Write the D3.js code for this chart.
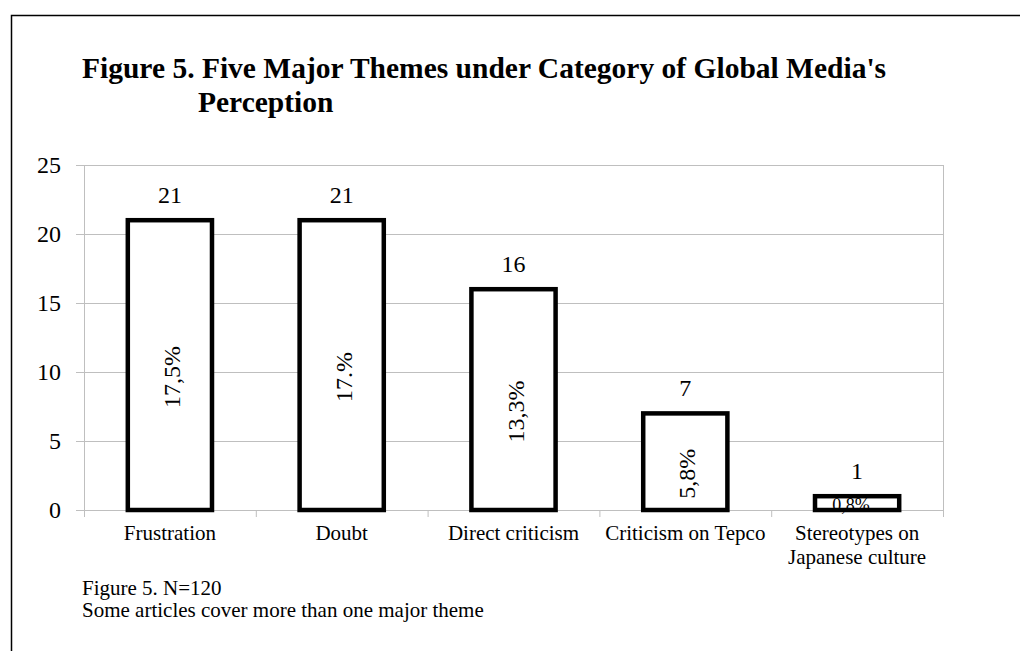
<!DOCTYPE html>
<html>
<head>
<meta charset="utf-8">
<script src="https://cdn.jsdelivr.net/npm/d3@7"></script>
<style>
  body { margin: 0; background: #fff; }
  svg { display: block; font-family: "Liberation Serif", "Times New Roman", serif; }
</style>
</head>
<body>
<svg></svg>
<script>
const categories = ['Frustration', 'Doubt', 'Direct criticism', 'Criticism on Tepco', 'Stereotypes on\nJapanese culture'];
const counts = [21, 21, 16, 7, 1];
const shareLabels = ['17,5%', '17.%', '13,3%', '5,8%', '0,8%'];
const yTicks = [0, 5, 10, 15, 20, 25];
const titleLines = ["Figure 5. Five Major Themes under Category of Global Media's", 'Perception'];
const noteLines = ['Figure 5. N=120', 'Some articles cover more than one major theme'];

const svgWidth = 1020;
const svgHeight = 651;
const margin = { top: 165, right: 77, bottom: 141, left: 84 };
const width = svgWidth - margin.left - margin.right;
const height = svgHeight - margin.top - margin.bottom;
const gridColor = '#bfbfbf';

const root = d3.select('svg')
    .attr('width', svgWidth)
    .attr('height', svgHeight);

// outer frame (only top and left edges are visible)
root.append('path')
    .attr('d', `M11.5,${svgHeight} V15.5 H${svgWidth}`)
    .attr('fill', 'none')
    .attr('stroke', '#000')
    .attr('stroke-width', 1.5);

// title with hanging indent
root.append('text')
    .attr('x', 82).attr('y', 78)
    .attr('font-size', '29.5px').attr('font-weight', 'bold')
    .text(titleLines[0]);
root.append('text')
    .attr('x', 198).attr('y', 112)
    .attr('font-size', '29.5px').attr('font-weight', 'bold')
    .text(titleLines[1]);

const svg = root.append('g')
    .attr('transform', `translate(${margin.left}, ${margin.top})`);

const yScale = d3.scaleLinear()
    .domain([0, 25])
    .range([height, 0]);

const xScale = d3.scaleBand()
    .domain(categories)
    .range([0, width])
    .padding(0);

// gridlines
svg.selectAll('.grid')
    .data(yTicks)
    .enter().append('line')
    .attr('class', 'grid')
    .attr('x1', 0).attr('x2', width)
    .attr('y1', d => yScale(d) + 0.5).attr('y2', d => yScale(d) + 0.5)
    .attr('stroke', gridColor);

// right edge of plot area
svg.append('line')
    .attr('x1', width + 0.5).attr('x2', width + 0.5)
    .attr('y1', 0).attr('y2', height)
    .attr('stroke', gridColor);

// y axis
const yAxis = svg.append('g')
    .call(d3.axisLeft(yScale).tickValues(yTicks).tickSize(8).tickSizeOuter(0).tickPadding(15));
yAxis.attr('font-family', null).attr('font-size', null);
yAxis.selectAll('line, path').attr('stroke', gridColor);
yAxis.selectAll('text')
    .attr('font-size', '24px')
    .attr('fill', '#000');

// x axis line + boundary ticks
svg.append('line')
    .attr('x1', 0).attr('x2', width)
    .attr('y1', height + 0.5).attr('y2', height + 0.5)
    .attr('stroke', gridColor);
svg.selectAll('.xtick')
    .data(d3.range(categories.length + 1))
    .enter().append('line')
    .attr('class', 'xtick')
    .attr('x1', i => i * xScale.step() + 0.5).attr('x2', i => i * xScale.step() + 0.5)
    .attr('y1', height).attr('y2', height + 7)
    .attr('stroke', gridColor);

const bw = xScale.bandwidth();
const barX = c => xScale(c) + bw * 0.255;
const barW = bw * 0.49;
const cx = c => xScale(c) + bw / 2;

const rows = categories.map((c, i) => ({ cat: c, value: counts[i], share: shareLabels[i] }));

// bar fills
svg.selectAll('.bar')
    .data(rows)
    .enter().append('rect')
    .attr('class', 'bar')
    .attr('x', d => barX(d.cat))
    .attr('y', d => yScale(d.value))
    .attr('width', barW)
    .attr('height', d => height - yScale(d.value))
    .attr('fill', '#fff');

// share labels inside bars
svg.selectAll('.share')
    .data(rows)
    .enter().append('text')
    .attr('class', 'share')
    .attr('text-anchor', 'middle')
    .attr('fill', '#000')
    .each(function (d) {
        const t = d3.select(this);
        const barH = height - yScale(d.value);
        if (barH > 80) {
            const cy = yScale(d.value / 2) + 12;
            t.attr('font-size', '24px')
                .attr('transform', `translate(${cx(d.cat) + 10}, ${cy}) rotate(-90)`);
        } else {
            t.attr('font-size', '18px')
                .attr('x', cx(d.cat) - 6)
                .attr('y', height + 1);
        }
    })
    .text(d => d.share);

// bar outlines on top
svg.selectAll('.outline')
    .data(rows)
    .enter().append('rect')
    .attr('class', 'outline')
    .attr('x', d => barX(d.cat))
    .attr('y', d => yScale(d.value))
    .attr('width', barW)
    .attr('height', d => height - yScale(d.value))
    .attr('fill', 'none')
    .attr('stroke', '#000')
    .attr('stroke-width', 4.5);

// value labels
svg.selectAll('.value')
    .data(rows)
    .enter().append('text')
    .attr('class', 'value')
    .attr('x', d => cx(d.cat))
    .attr('y', d => yScale(d.value) - 17)
    .attr('text-anchor', 'middle')
    .attr('font-size', '24px')
    .attr('fill', '#000')
    .text(d => d.value);

// category labels
svg.selectAll('.cat')
    .data(categories)
    .enter().append('text')
    .attr('class', 'cat')
    .attr('x', d => cx(d))
    .attr('y', height + 30)
    .attr('text-anchor', 'middle')
    .attr('font-size', '21px')
    .attr('fill', '#000')
    .each(function (d) {
        const t = d3.select(this);
        d.split('\n').forEach((line, i) => {
            t.append('tspan')
                .attr('x', cx(d))
                .attr('dy', i === 0 ? 0 : 24)
                .text(line);
        });
    });

// footnote
root.selectAll('.note')
    .data(noteLines)
    .enter().append('text')
    .attr('class', 'note')
    .attr('x', 82)
    .attr('y', (d, i) => 595 + i * 22)
    .attr('font-size', '21px')
    .attr('fill', '#000')
    .text(d => d);
</script>
</body>
</html>
